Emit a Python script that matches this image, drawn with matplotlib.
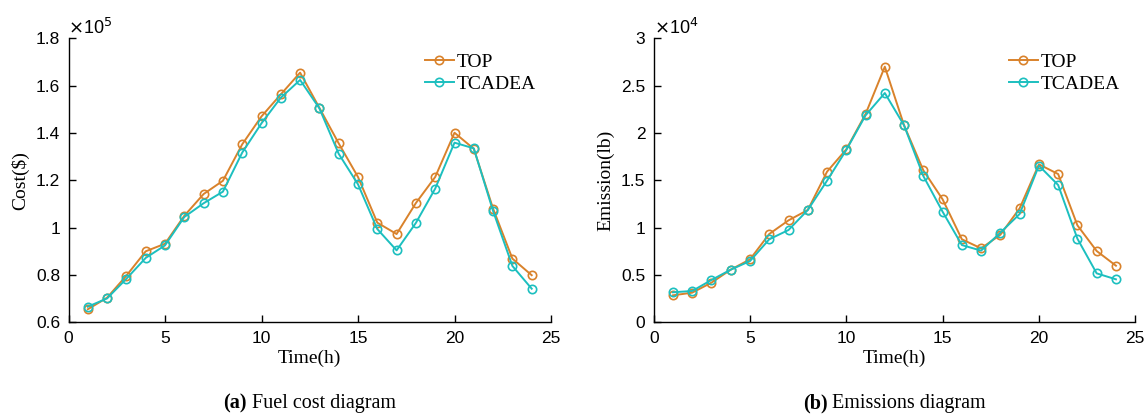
import matplotlib
matplotlib.use("Agg")
import matplotlib.pyplot as plt
from matplotlib.ticker import FuncFormatter

hours = list(range(1, 25))
cost_top = [65500, 70400, 79700, 90000, 93200, 105000, 114200, 119800, 135200, 147000,
            156300, 165500, 150600, 135600, 121400, 102100, 97300, 110400, 121400, 140100,
            133300, 108000, 86900, 79900]
cost_tcadea = [66600, 70100, 78400, 87200, 92500, 104500, 110300, 115200, 131700, 144100,
               154900, 162400, 150400, 131200, 118300, 99400, 90400, 102000, 116500, 135900,
               133500, 107000, 83800, 74200]
em_top = [2850, 3130, 4190, 5560, 6650, 9330, 10770, 11860, 15910, 18270,
          22000, 27000, 20800, 16050, 12990, 8770, 7810, 9250, 12040, 16690,
          15660, 10240, 7530, 5980]
em_tcadea = [3170, 3310, 4470, 5560, 6470, 8770, 9750, 11860, 14960, 18200,
             21860, 24220, 20800, 15450, 11680, 8160, 7570, 9470, 11440, 16550,
             14500, 8830, 5170, 4540]
series_names = ["TOP", "TCADEA"]
colors = ["#D9822B", "#1CBFBF"]

W, H = 1146, 415
fig = plt.figure(figsize=(W / 100, H / 100), dpi=100)
serif = "Liberation Serif"
sans = "Liberation Sans"
captions = []

def make_axes(rect, y1, y2, ylim, yticks, scale, exp, ylabel, caption_bold, caption):
    ax = fig.add_axes(rect)
    ax.plot(hours, y1, color=colors[0], marker="o", mfc="none", ms=6, mew=1.2, lw=1.4, label=series_names[0])
    ax.plot(hours, y2, color=colors[1], marker="o", mfc="none", ms=6, mew=1.2, lw=1.4, label=series_names[1])
    ax.set_xlim(0, 25)
    ax.set_ylim(*ylim)
    ax.set_xticks([0, 5, 10, 15, 20, 25])
    ax.set_yticks(yticks)
    ax.yaxis.set_major_formatter(FuncFormatter(lambda v, p: "%g" % round(v / scale, 6)))
    for s in ["top", "right"]:
        ax.spines[s].set_visible(False)
    for s in ["left", "bottom"]:
        ax.spines[s].set_linewidth(1.0)
    ax.tick_params(direction="in", length=5, width=1, labelsize=12.5, pad=6)
    for lab in ax.get_xticklabels() + ax.get_yticklabels():
        lab.set_fontfamily(sans)
    ax.set_xlabel("Time(h)", fontfamily=serif, fontsize=14, labelpad=3)
    ax.set_ylabel(ylabel, fontfamily=serif, fontsize=14, labelpad=5)
    ax.text(0.0, 1.0, r"$\times$10$^{%d}$" % exp, transform=ax.transAxes, fontfamily=sans,
            fontsize=13, ha="left", va="bottom")
    ax.legend(loc="upper right", bbox_to_anchor=(0.985, 0.975), frameon=False,
              prop={"family": serif, "size": 14}, handlelength=1.5, handletextpad=0.15,
              labelspacing=0.25, borderaxespad=0.0)
    cx = rect[0] + rect[2] / 2
    t1 = fig.text(cx, 0.028, caption_bold, fontfamily=serif, fontweight="bold", fontsize=14.5, ha="left", va="center")
    t2 = fig.text(cx, 0.028, " " + caption, fontfamily=serif, fontsize=14.5, ha="left", va="center")
    captions.append((cx, t1, t2))
    return ax

make_axes([68.5 / W, 1 - 322.3 / H, 482.5 / W, 284 / H], cost_top, cost_tcadea,
          (60000, 180000), [60000, 80000, 100000, 120000, 140000, 160000, 180000], 1e5, 5,
          "Cost($)", "(a)", "Fuel cost diagram")
make_axes([653.7 / W, 1 - 322.3 / H, 481.5 / W, 284 / H], em_top, em_tcadea,
          (0, 30000), [0, 5000, 10000, 15000, 20000, 25000, 30000], 1e4, 4,
          "Emission(lb)", "(b)", "Emissions diagram")

renderer = fig.canvas.get_renderer()
for cx, t1, t2 in captions:
    w1 = t1.get_window_extent(renderer).width / W
    w2 = t2.get_window_extent(renderer).width / W
    start = cx - (w1 + w2) / 2
    t1.set_x(start)
    t2.set_x(start + w1)

fig.savefig("out.png", dpi=100)
